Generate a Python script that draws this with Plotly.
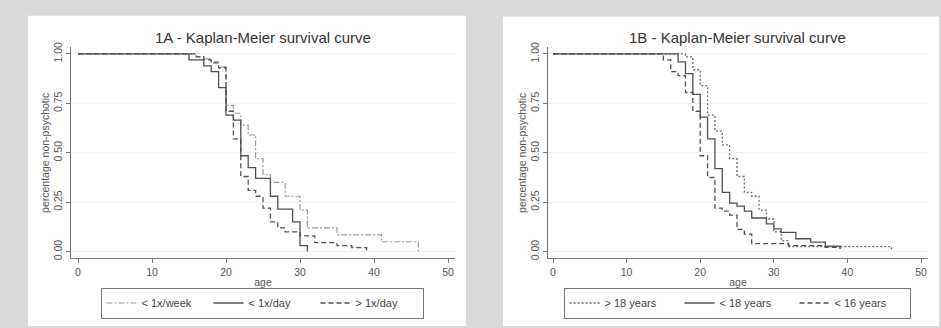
import plotly.graph_objects as go

# ---------------- data ----------------
# Panel 1A - frequency of use
week_age = [0, 16, 17, 18, 19, 20, 21, 22, 23, 24, 25, 26, 28, 30, 31, 35, 41, 46]
week_surv = [1.0, 0.985, 0.975, 0.96, 0.935, 0.74, 0.70, 0.64, 0.59, 0.47, 0.39, 0.35, 0.28, 0.21, 0.12, 0.085, 0.05, 0.0]

day_age = [0, 15, 17, 18, 19, 20, 21, 22, 23, 24, 26, 27, 29, 30, 31]
day_surv = [1.0, 0.97, 0.94, 0.91, 0.83, 0.69, 0.665, 0.485, 0.425, 0.37, 0.28, 0.215, 0.15, 0.03, 0.0]

xday_age = [0, 16, 17, 18, 19, 20, 21, 22, 23, 24, 25, 26, 27, 28, 30, 32, 35, 37, 39]
xday_surv = [1.0, 0.985, 0.97, 0.955, 0.93, 0.71, 0.57, 0.38, 0.31, 0.28, 0.22, 0.15, 0.12, 0.10, 0.08, 0.045, 0.03, 0.02, 0.0]

# Panel 1B - age of onset of use
over18_age = [0, 18, 19, 20, 21, 22, 23, 24, 25, 26, 27, 28, 29, 30, 31, 32, 46]
over18_surv = [1.0, 0.985, 0.92, 0.84, 0.69, 0.61, 0.54, 0.47, 0.38, 0.30, 0.28, 0.21, 0.165, 0.10, 0.056, 0.025, 0.012]

under18_age = [0, 17, 18, 19, 20, 21, 22, 23, 24, 25, 26, 27, 29, 30, 31, 33, 35, 37, 39]
under18_surv = [1.0, 0.96, 0.90, 0.795, 0.68, 0.57, 0.42, 0.30, 0.245, 0.23, 0.205, 0.17, 0.14, 0.115, 0.097, 0.065, 0.048, 0.028, 0.015]

under16_age = [0, 15, 16, 17, 18, 19, 20, 21, 22, 23, 24, 25, 26, 27, 32, 37, 39]
under16_surv = [1.0, 0.97, 0.91, 0.89, 0.805, 0.71, 0.485, 0.375, 0.22, 0.205, 0.185, 0.113, 0.089, 0.04, 0.03, 0.022, 0.015]

titles = ["1A - Kaplan-Meier survival curve", "1B - Kaplan-Meier survival curve"]
x_ticks = [0, 10, 20, 30, 40, 50]
y_ticks = [0, 0.25, 0.5, 0.75, 1.0]
y_ticktext = ["0.00", "0.25", "0.50", "0.75", "1.00"]

# ---------------- figure ----------------
W, H = 941, 328
FONT = "Arial, Liberation Sans, sans-serif"
fig = go.Figure()

def px_x(p):
    return p / W

def px_y(p):
    return (H - p) / H

def add(x, y, name, dash, color, width, xa, ya, legend):
    fig.add_trace(go.Scatter(
        x=x, y=y, name=name, mode="lines", line_shape="hv",
        line=dict(color=color, width=width, dash=dash),
        xaxis=xa, yaxis=ya, legend=legend, hoverinfo="skip"))

add(week_age, week_surv, "< 1x/week", "6px,2px,2px,2px", "#9a9a9a", 1.2, "x", "y", "legend")
add(day_age, day_surv, "< 1x/day", "solid", "#505050", 1.3, "x", "y", "legend")
add(xday_age, xday_surv, "> 1x/day", "5px,3px", "#505050", 1.3, "x", "y", "legend")

add(over18_age, over18_surv, "> 18 years", "2px,2px", "#6a6a6a", 1.3, "x2", "y2", "legend2")
add(under18_age, under18_surv, "< 18 years", "solid", "#505050", 1.3, "x2", "y2", "legend2")
add(under16_age, under16_surv, "< 16 years", "5px,3px", "#505050", 1.3, "x2", "y2", "legend2")

axis_common = dict(showline=True, linecolor="#777777", linewidth=1,
                   ticks="outside", ticklen=4, tickcolor="#777777",
                   tickfont=dict(size=10.5, color="#555555", family=FONT),
                   zeroline=False)

# panel geometry (pixels)
L = dict(ax0=71, ax1=455, xz=78, xs=7.4)
R = dict(ax0=548, ax1=928, xz=553, xs=7.36)
y_top, y_bot, y0p, y1p = 43, 259, 252, 50
ys = (y0p - y1p)
yr = [-(y_bot - y0p) / ys, 1 + (y1p - y_top) / ys]

for P, xa, ya in [(L, "xaxis", "yaxis"), (R, "xaxis2", "yaxis2")]:
    xr = [(P["ax0"] - P["xz"]) / P["xs"], (P["ax1"] - P["xz"]) / P["xs"]]
    fig.layout[xa] = dict(domain=[px_x(P["ax0"]), px_x(P["ax1"])], range=xr,
                          tickvals=x_ticks, showgrid=False,
                          title=dict(text="age", font=dict(size=10.5, color="#555555", family=FONT), standoff=1),
                          anchor="y" if xa == "xaxis" else "y2",
                          **axis_common)
    fig.layout[ya] = dict(domain=[px_y(y_bot), px_y(y_top)], range=yr,
                          tickvals=y_ticks, ticktext=y_ticktext, tickangle=-90,
                          showgrid=True, gridcolor="#f0f0f0", gridwidth=1,
                          title=dict(text="percentage non-psychotic", font=dict(size=10.5, color="#555555", family=FONT), standoff=0),
                          anchor="x" if ya == "yaxis" else "x2",
                          **axis_common)

# white panels on grey background
shapes = [
    dict(type="rect", xref="paper", yref="paper", x0=px_x(28), x1=px_x(466), y0=0, y1=px_y(11),
         fillcolor="white", line=dict(width=0), layer="below"),
    dict(type="rect", xref="paper", yref="paper", x0=px_x(503), x1=px_x(939), y0=0, y1=px_y(12),
         fillcolor="white", line=dict(width=0), layer="below"),
]

annotations = [
    dict(text=titles[0], x=px_x(263), y=px_y(33), xref="paper", yref="paper",
         showarrow=False, xanchor="center", yanchor="middle",
         font=dict(size=15, color="#333333", family=FONT)),
    dict(text=titles[1], x=px_x(737), y=px_y(33), xref="paper", yref="paper",
         showarrow=False, xanchor="center", yanchor="middle",
         font=dict(size=15, color="#333333", family=FONT)),
]

leg_common = dict(orientation="h", bgcolor="white", bordercolor="#777777", borderwidth=1,
                  font=dict(size=11, color="#444444", family=FONT),
                  xanchor="center", yanchor="middle", entrywidthmode="pixels",
                  itemclick=False, itemdoubleclick=False, tracegroupgap=0)

fig.update_layout(
    width=W, height=H, margin=dict(l=0, r=0, t=0, b=0),
    paper_bgcolor="#d9d9d9", plot_bgcolor="white",
    shapes=shapes, annotations=annotations,
    showlegend=True,
    legend=dict(x=px_x(262), y=px_y(304.5), entrywidth=62, **leg_common),
    legend2=dict(x=px_x(737), y=px_y(304.5), entrywidth=70, **leg_common),
    font=dict(family=FONT),
)

fig.write_html("out.html")
